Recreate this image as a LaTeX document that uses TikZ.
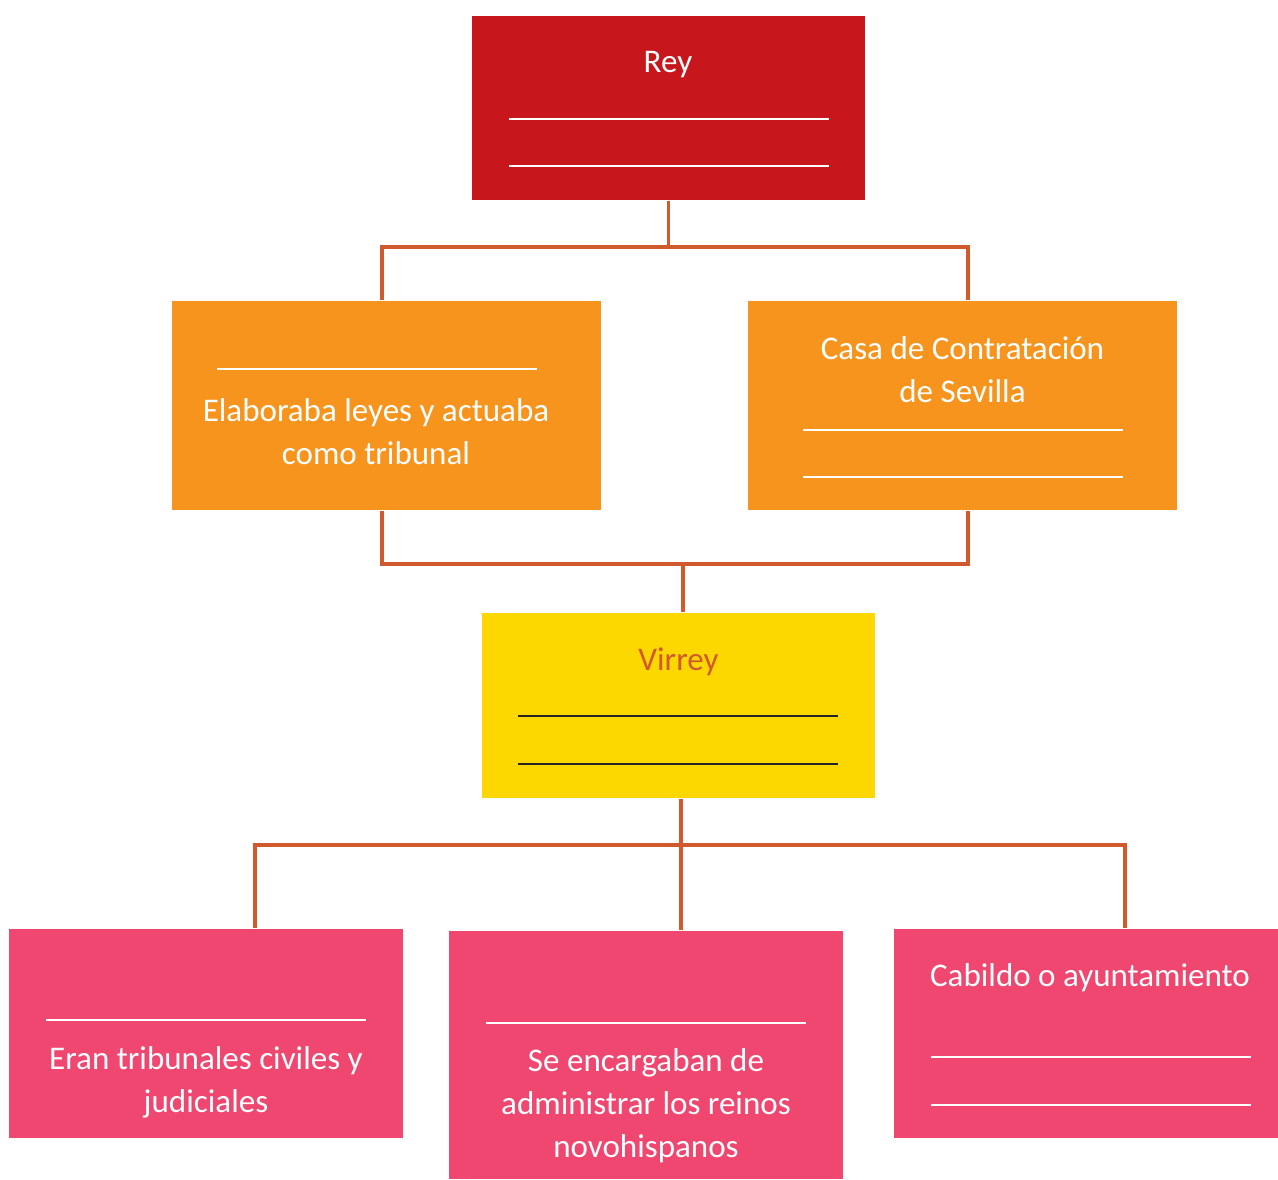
\documentclass[tikz,border=0pt]{standalone}
\usepackage{fontspec}
\setmainfont{Carlito}
\usetikzlibrary{positioning}
\definecolor{reyred}{HTML}{C8161D}
\definecolor{consorange}{HTML}{F7941D}
\definecolor{virreyyellow}{HTML}{FDD700}
\definecolor{localpink}{HTML}{EF476F}
\definecolor{linkbrown}{HTML}{D05A2E}
\newcommand{\boxfont}{\fontsize{9.4}{12.2}\selectfont}

\begin{document}
\begin{tikzpicture}[
    office/.style={rectangle, inner sep=0pt, minimum width=#1},
    conn/.style={draw=linkbrown, line width=1pt},
    label/.style={text=white, align=center, font=\boxfont},
    blank/.style={draw=white, line width=.8pt}
  ]
        \useasboundingbox (0,0) rectangle (12.78,-11.80);

        % boxes
        \node (rey) at (6.685,-1.08) [office=3.93cm, minimum height=1.84cm, fill=reyred] {};
        \node (cons) at (3.865,-4.055) [office=4.29cm, minimum height=2.09cm, fill=consorange] {};
        \node (casa) at (9.625,-4.055) [office=4.29cm, minimum height=2.09cm, fill=consorange] {};
        \node (virrey) at (6.785,-7.055) [office=3.93cm, minimum height=1.85cm, fill=virreyyellow] {};
        \node (aud) at (2.06,-10.335) [office=3.94cm, minimum height=2.09cm, fill=localpink] {};
        \node (intend) at (6.46,-10.55) [office=3.94cm, minimum height=2.48cm, fill=localpink] {};
        \node (cabildo) at (10.86,-10.335) [office=3.84cm, minimum height=2.09cm, fill=localpink] {};

        % connectors
        \coordinate (jl) at (3.82,-2.47);
        \coordinate (jr) at (9.68,-2.47);
        \coordinate (kl) at (3.82,-5.64);
        \coordinate (kr) at (9.68,-5.64);
        \coordinate (kv) at (6.83,-5.64);
        \coordinate (ja) at (2.55,-8.45);
        \coordinate (jv) at (6.81,-8.45);
        \coordinate (jc) at (11.25,-8.45);
        \draw[conn] (rey.south) -- (rey.south |- jl);
        \draw[conn] (jl |- cons.north) -- (jl) -- (jr) -- (jr |- casa.north);
        \draw[conn] (kl |- cons.south) -- (kl) -- (kr) -- (kr |- casa.south);
        \draw[conn] (kv) -- (kv |- virrey.north);
        \draw[conn] (jv |- virrey.south) -- (jv |- intend.north);
        \draw[conn] (ja |- aud.north) -- (ja) -- (jc) -- (jc |- cabildo.north);

        % texts
        \node (reyt) at (6.68,-.65) [label] {Rey};
        \node (const) at (3.76,-4.315) [label] {Elaboraba leyes y actuaba\\como tribunal};
        \node (casat) at (9.625,-3.70) [label] {Casa de Contratación\\de Sevilla};
        \node (virreyt) at (6.785,-6.62) [label, text=linkbrown] {Virrey};
        \node (audt) at (2.06,-10.825) [label] {Eran tribunales civiles y\\judiciales};
        \node (intendt) at (6.46,-11.06) [label] {Se encargaban de\\administrar los reinos\\novohispanos};
        \node (cabildot) at (10.90,-9.78) [label] {Cabildo o ayuntamiento};

        % blanks
        \foreach \x/\y in {5.09/1.19, 5.09/1.66, 2.17/3.69, 8.03/4.30, 8.03/4.77,
                           .46/10.20, 4.86/10.23, 9.31/10.57, 9.31/11.05}
                 \draw[blank] (\x,-\y) -- ++(3.2,0);
        \foreach \y in {7.16,7.64}
                 \draw[black!85, line width=.8pt] (5.18,-\y) -- ++(3.2,0);
      \end{tikzpicture}
\end{document}
